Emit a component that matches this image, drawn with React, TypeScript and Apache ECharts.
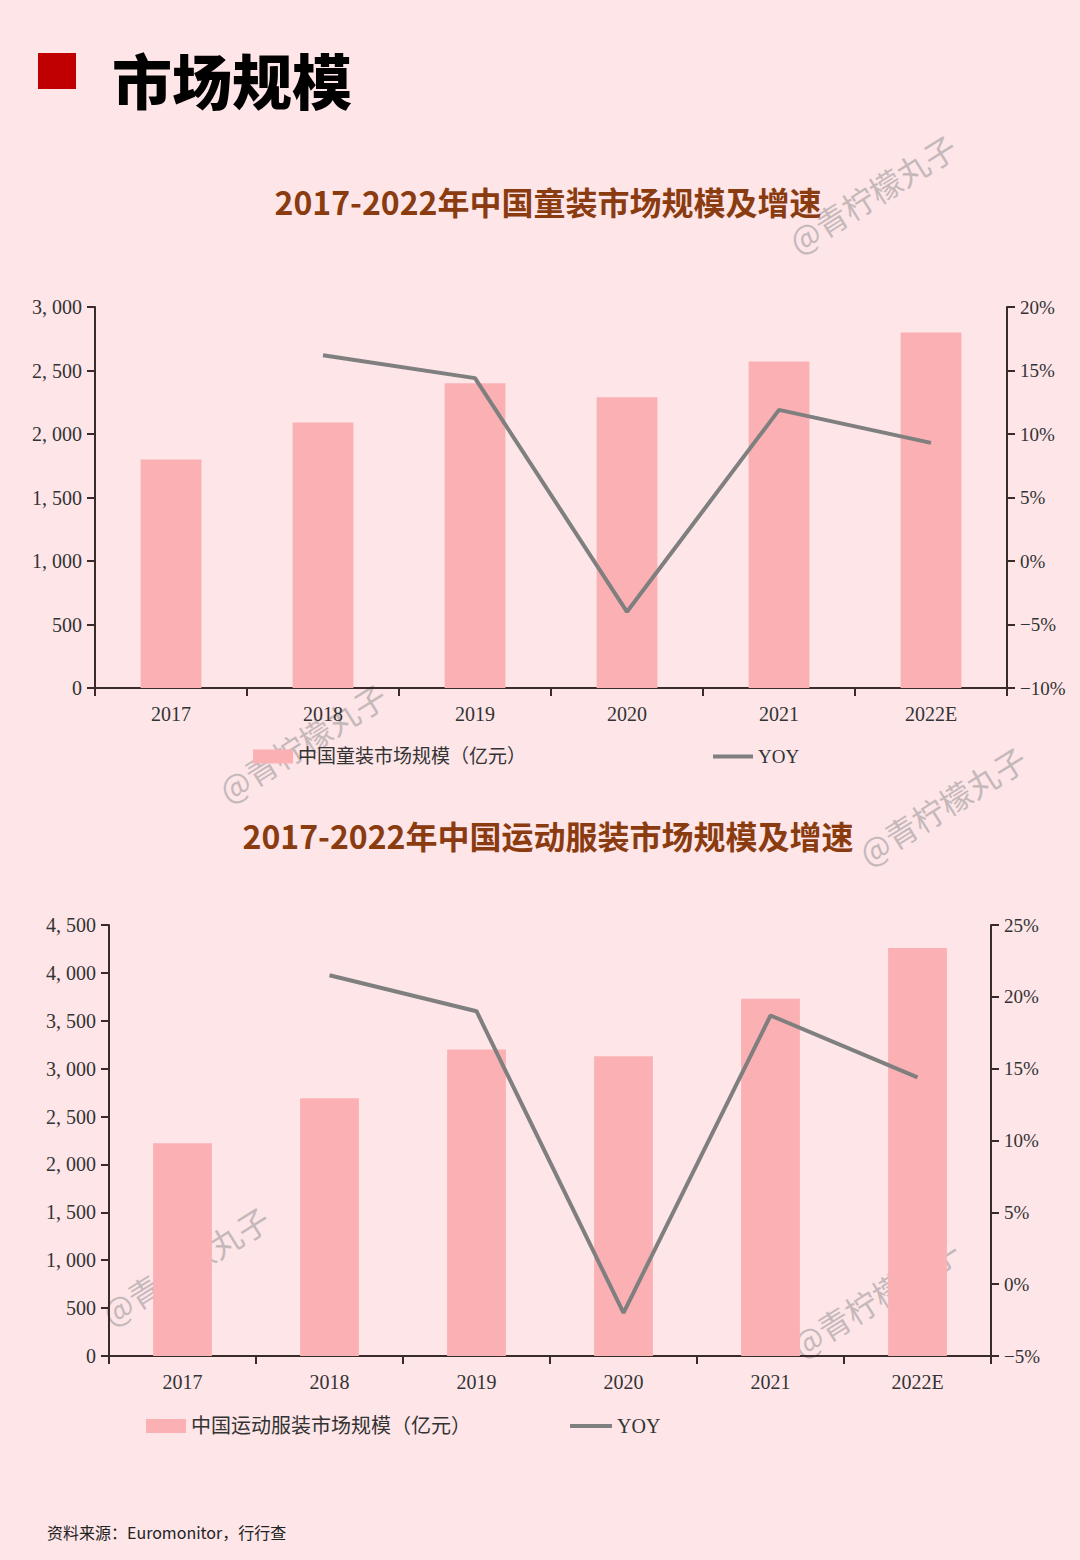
import React, { useEffect, useRef } from "react";
import * as echarts from "echarts";

const years = ["2017", "2018", "2019", "2020", "2021", "2022E"];
const kidsMarket = [1800, 2090, 2400, 2290, 2570, 2800];
const kidsYoy = [null, 16.2, 14.4, -4.0, 11.9, 9.3];
const sportsMarket = [2220, 2690, 3200, 3130, 3730, 4260];
const sportsYoy = [null, 21.5, 19.0, -2.0, 18.7, 14.4];

const headerText = "市场规模";
const title1 = "2017-2022年中国童装市场规模及增速";
const title2 = "2017-2022年中国运动服装市场规模及增速";
const kidsName = "中国童装市场规模（亿元）";
const sportsName = "中国运动服装市场规模（亿元）";
const yoyName = "YOY";
const sourceText = "资料来源：Euromonitor，行行查";
const watermark = "@青柠檬丸子";

const BG = "#fde5e8";
const BAR = "#fbb1b3";
const LINE = "#7f7f7f";
const AXIS = "#3a2b2b";
const TXT = "#333333";
const SERIF = "'Liberation Serif', 'Noto Sans CJK SC', serif";
const SANS = "'Noto Sans CJK SC', 'Noto Sans', sans-serif";

const fmtNum = (v: number) =>
  v >= 1000 ? `${Math.floor(v / 1000)}, ${String(v % 1000).padStart(3, "0")}` : String(v);
const fmtPct = (v: number) => (v < 0 ? `\u2212${Math.abs(v)}%` : `${v}%`);

export default function App() {
  const ref = useRef<HTMLDivElement>(null);
  useEffect(() => {
    document.body.style.margin = "0";
    const chart = echarts.init(ref.current!, null, { renderer: "svg" });

    const xAxisBase = (gridIndex: number) => ({
      type: "category" as const,
      gridIndex,
      data: years,
      axisLine: { lineStyle: { color: AXIS, width: 2 } },
      axisTick: { show: true, length: 8, lineStyle: { color: AXIS, width: 2 } },
      axisLabel: { color: TXT, fontSize: 20, fontFamily: SERIF, margin: 16 },
    });
    const yLeft = (gridIndex: number, max: number) => ({
      type: "value" as const,
      gridIndex,
      min: 0,
      max,
      interval: 500,
      position: "left" as const,
      axisLine: { show: true, lineStyle: { color: AXIS, width: 2 } },
      axisTick: { show: true, length: 8, lineStyle: { color: AXIS, width: 2 } },
      splitLine: { show: false },
      axisLabel: { color: TXT, fontSize: 20, fontFamily: SERIF, margin: 13, formatter: fmtNum },
    });
    const yRight = (gridIndex: number, min: number, max: number) => ({
      type: "value" as const,
      gridIndex,
      min,
      max,
      interval: 5,
      position: "right" as const,
      axisLine: { show: true, lineStyle: { color: AXIS, width: 2 } },
      axisTick: { show: true, length: 8, lineStyle: { color: AXIS, width: 2 } },
      splitLine: { show: false },
      axisLabel: { color: TXT, fontSize: 19, fontFamily: SERIF, margin: 13, formatter: fmtPct },
    });

    const wm = (x: number, y: number) => ({
      type: "text",
      x,
      y,
      rotation: (32 * Math.PI) / 180,
      z: -10,
      style: {
        text: watermark,
        fill: "rgba(140,140,140,0.5)",
        fontSize: 32,
        fontFamily: SANS,
        align: "center",
        verticalAlign: "middle",
      },
    });

    const legendText = (size: number) => ({ color: TXT, fontSize: size, fontFamily: SERIF });

    chart.setOption({
      animation: false,
      backgroundColor: BG,
      grid: [
        { left: 95, right: 73, top: 307, height: 381, containLabel: false },
        { left: 109, right: 89, top: 925, height: 431, containLabel: false },
      ],
      xAxis: [xAxisBase(0), xAxisBase(1)],
      yAxis: [yLeft(0, 3000), yRight(0, -10, 20), yLeft(1, 4500), yRight(1, -5, 25)],
      legend: [
        {
          data: [kidsName], left: 253, top: 747, padding: 0,
          itemWidth: 40, itemHeight: 14, icon: "rect", textStyle: legendText(19),
        },
        {
          data: [yoyName], left: 713, top: 747, padding: 0,
          itemWidth: 40, itemHeight: 4, icon: "rect", textStyle: legendText(19),
        },
        {
          data: [sportsName], left: 146, top: 1416, padding: 0,
          itemWidth: 40, itemHeight: 14, icon: "rect", textStyle: legendText(20),
        },
        {
          data: [yoyName], left: 570, top: 1416, padding: 0,
          itemWidth: 42, itemHeight: 4, icon: "rect", textStyle: legendText(20),
        },
      ],
      series: [
        {
          name: kidsName, type: "bar", xAxisIndex: 0, yAxisIndex: 0,
          data: kidsMarket, barWidth: "40%", itemStyle: { color: BAR },
        },
        {
          name: yoyName, type: "line", xAxisIndex: 0, yAxisIndex: 1,
          data: kidsYoy, symbol: "none", connectNulls: false,
          lineStyle: { color: LINE, width: 4 }, itemStyle: { color: LINE },
        },
        {
          name: sportsName, type: "bar", xAxisIndex: 1, yAxisIndex: 2,
          data: sportsMarket, barWidth: "40%", itemStyle: { color: BAR },
        },
        {
          name: yoyName, type: "line", xAxisIndex: 1, yAxisIndex: 3,
          data: sportsYoy, symbol: "none", connectNulls: false,
          lineStyle: { color: LINE, width: 4 }, itemStyle: { color: LINE },
        },
      ],
      graphic: [
        wm(872, 193),
        wm(302, 742),
        wm(942, 805),
        wm(185, 1265),
        wm(875, 1297),
        { type: "rect", shape: { x: 38, y: 53, width: 38, height: 36 }, style: { fill: "#c00000" } },
        {
          type: "text", x: 112, y: 78,
          style: {
            text: headerText, fill: "#000", fontSize: 60, fontWeight: 900, fontFamily: SANS,
            verticalAlign: "middle", align: "left",
          },
        },
        {
          type: "text", x: 548, y: 201,
          style: {
            text: title1, fill: "#8a3c10", fontSize: 32, fontWeight: "bold", fontFamily: SANS,
            align: "center", verticalAlign: "middle",
          },
        },
        {
          type: "text", x: 548, y: 835,
          style: {
            text: title2, fill: "#8a3c10", fontSize: 32, fontWeight: "bold", fontFamily: SANS,
            align: "center", verticalAlign: "middle",
          },
        },
        {
          type: "text", x: 47, y: 1532,
          style: {
            text: sourceText, fill: "#222", fontSize: 16, fontFamily: SANS,
            align: "left", verticalAlign: "middle",
          },
        },
      ],
    });
    return () => chart.dispose();
  }, []);
  return <div ref={ref} style={{ width: 1080, height: 1560 }} />;
}
